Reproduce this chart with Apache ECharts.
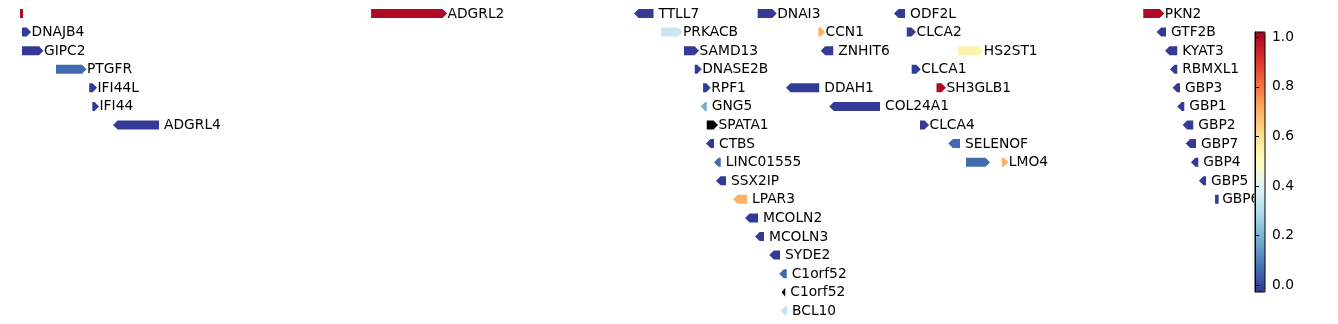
<!DOCTYPE html>
<html>
<head>
<meta charset="utf-8">
<script src="https://cdn.jsdelivr.net/npm/echarts@6/dist/echarts.min.js"></script>
<style>
html,body{margin:0;padding:0;background:#fff;}
#chart{width:1338px;height:324px;}
</style>
</head>
<body>
<div id="chart"></div>
<script>
// Gene track data (genomic positions in kb, chr1)
const geneNames = ['', 'DNAJB4','GIPC2','PTGFR','IFI44L','IFI44','ADGRL4','ADGRL2','TTLL7','PRKACB','SAMD13','DNASE2B','RPF1','GNG5','SPATA1','CTBS','LINC01555','SSX2IP','LPAR3','MCOLN2','MCOLN3','SYDE2','C1orf52','C1orf52','BCL10','DNAI3','CCN1','ZNHIT6','DDAH1','COL24A1','ODF2L','CLCA2','CLCA1','SH3GLB1','CLCA4','SELENOF','HS2ST1','','LMO4','PKN2','GTF2B','KYAT3','RBMXL1','GBP3','GBP1','GBP2','GBP7','GBP4','GBP5','GBP6'];
const geneStarts = [77900,77919,77919,78242,78558,78587,78784,81235,83733,83990,84208,84310,84389,84367,84424,84417,84493,84512,84674,84788,84883,85018,85113,85136,85127,84908,85484,85507,85177,85588,86203,86324,86371,86607,86450,86719,86808,86887,87226,88571,88698,88778,88825,88850,88894,88945,88974,89024,89100,89253];
const geneEnds   = [77929,78005,78123,78532,78632,78651,79221,81957,83918,84194,84351,84376,84462,84424,84531,84493,84557,84607,84807,84911,84968,85120,85184,85170,85187,85089,85548,85626,85493,86070,86308,86412,86457,86697,86536,86830,87051,87115,87289,88771,88787,88894,88894,88920,88961,89046,89072,89094,89167,89287];
const geneRows   = [0,1,2,3,4,5,6,0,0,1,2,3,4,5,6,7,8,9,10,11,12,13,14,15,16,0,1,2,4,5,0,1,3,4,6,7,2,8,8,0,1,2,3,4,5,6,7,8,9,10];
const geneStrands= [0,1,1,1,1,1,-1,1,-1,1,1,1,1,-1,1,-1,-1,-1,-1,-1,-1,-1,-1,-1,-1,1,1,-1,-1,-1,-1,1,1,1,1,-1,1,1,1,1,-1,-1,-1,-1,-1,-1,-1,-1,-1,0];
const geneValues = [1.0,-0.02,-0.02,0.06,-0.02,-0.02,-0.02,1.0,-0.02,0.34,-0.02,-0.02,-0.02,0.18,null,-0.02,0.06,-0.02,0.7,-0.02,-0.02,-0.02,0.06,null,0.33,-0.02,0.7,-0.02,-0.02,-0.02,-0.02,-0.02,-0.02,1.0,-0.02,0.06,0.54,0.06,0.7,1.0,-0.02,-0.02,-0.02,-0.02,-0.02,-0.02,-0.02,-0.02,-0.02,-0.02];

const colorMin = -0.028, colorMax = 1.021;
const colorTicks = [0.0, 0.2, 0.4, 0.6, 0.8, 1.0];
const rdylbuR = ['#313695','#4575b4','#74add1','#abd9e9','#e0f3f8','#ffffbf','#fee090','#fdae61','#f46d43','#d73027','#a50026'];

const data = geneNames.map((n, i) => ({
  value: [geneStarts[i], geneEnds[i], geneRows[i], geneStrands[i], geneValues[i] === null ? NaN : geneValues[i]],
  name: n
}));

const FONT = '"DejaVu Sans", sans-serif';

function renderItem(params, api) {
  const i = params.dataIndex;
  const row = api.value(2);
  const s = api.coord([api.value(0), row]);
  const e = api.coord([api.value(1), row]);
  const strand = api.value(3);
  const v = api.value(4);
  const h = 9;
  const y = s[1];
  const x0 = s[0], x1 = e[0];
  const len = x1 - x0;
  const head = Math.min(4.5, len);
  const color = isNaN(v) ? '#000000' : api.visual('color');
  let shape;
  if (strand === 1) {
    shape = {type: 'polygon', shape: {points: [[x0, y - h/2], [x1 - head, y - h/2], [x1, y], [x1 - head, y + h/2], [x0, y + h/2]]}};
  } else if (strand === -1) {
    shape = {type: 'polygon', shape: {points: [[x1, y - h/2], [x0 + head, y - h/2], [x0, y], [x0 + head, y + h/2], [x1, y + h/2]]}};
  } else {
    shape = {type: 'rect', shape: {x: x0, y: y - h/2, width: Math.max(len, 1), height: h}};
  }
  shape.style = {fill: color, stroke: null};
  const children = [shape];
  const name = geneNames[i];
  if (name) {
    const off = strand === 1 ? 0.5 : (strand === -1 ? 5 : 3.5);
    children.push({
      type: 'text',
      style: {
        x: x1 + off, y: y + 0.5, text: name,
        fill: '#000', font: '13.8px ' + FONT,
        textAlign: 'left', textVerticalAlign: 'middle'
      }
    });
  }
  return {type: 'group', children: children};
}

const chart = echarts.init(document.getElementById('chart'), null, {renderer: 'canvas'});
chart.setOption({
  animation: false,
  backgroundColor: '#ffffff',
  grid: [
    {left: 20, right: 84, top: 4.2, bottom: 3.9, show: false},
    {left: 1255, width: 10, top: 32, height: 260, show: true, borderColor: '#000', borderWidth: 1, backgroundColor: 'transparent', z: 10}
  ],
  xAxis: [
    {type: 'value', gridIndex: 0, min: 77900, max: 89623, show: false},
    {type: 'value', gridIndex: 1, min: 0, max: 1, show: false}
  ],
  yAxis: [
    {type: 'value', gridIndex: 0, min: -0.5, max: 16.5, inverse: true, show: false},
    {
      type: 'value', gridIndex: 1, position: 'right', min: colorMin, max: colorMax, z: 10,
      axisLine: {show: true, lineStyle: {color: '#000', width: 1}},
      axisTick: {show: true, length: 4, lineStyle: {color: '#000'}, customValues: colorTicks},
      axisLabel: {show: true, margin: 7, color: '#000', fontSize: 13.8, fontFamily: FONT, customValues: colorTicks,
                  formatter: v => Number(v).toFixed(1)},
      splitLine: {show: false}
    }
  ],
  visualMap: {
    type: 'continuous', seriesIndex: 0, dimension: 4,
    min: colorMin, max: colorMax,
    inRange: {color: rdylbuR},
    calculable: false, realtime: false,
    orient: 'vertical', left: 1255, top: 32, padding: 0,
    itemWidth: 10, itemHeight: 260, text: null, showLabel: false
  },
  series: [{
    type: 'custom',
    xAxisIndex: 0, yAxisIndex: 0,
    renderItem: renderItem,
    clip: true,
    data: data
  }]
});
</script>
</body>
</html>
